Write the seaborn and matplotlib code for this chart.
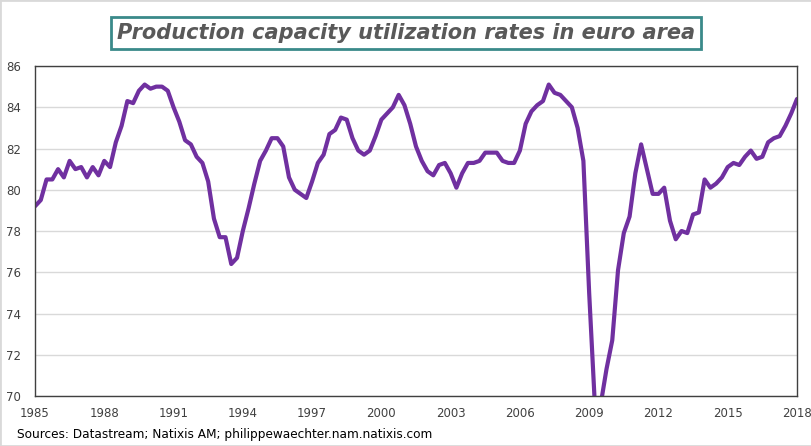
import numpy as np
import pandas as pd
import matplotlib
matplotlib.use("Agg")
import matplotlib.pyplot as plt
import seaborn as sns
from matplotlib.patches import Rectangle

# quarterly capacity utilization, euro area, 1985Q1 .. 2018Q1
start_year = 1985
utilization = [
    79.2, 79.5, 80.5, 80.5, 81.0, 80.6, 81.4, 81.0, 81.1, 80.6,
    81.1, 80.7, 81.4, 81.1, 82.3, 83.1, 84.3, 84.2, 84.8, 85.1,
    84.9, 85.0, 85.0, 84.8, 84.0, 83.3, 82.4, 82.2, 81.6, 81.3,
    80.4, 78.6, 77.7, 77.7, 76.4, 76.7, 78.0, 79.1, 80.3, 81.4,
    81.9, 82.5, 82.5, 82.1, 80.6, 80.0, 79.8, 79.6, 80.4, 81.3,
    81.7, 82.7, 82.9, 83.5, 83.4, 82.5, 81.9, 81.7, 81.9, 82.6,
    83.4, 83.7, 84.0, 84.6, 84.1, 83.2, 82.1, 81.4, 80.9, 80.7,
    81.2, 81.3, 80.8, 80.1, 80.8, 81.3, 81.3, 81.4, 81.8, 81.8,
    81.8, 81.4, 81.3, 81.3, 81.9, 83.2, 83.8, 84.1, 84.3, 85.1,
    84.7, 84.6, 84.3, 84.0, 83.0, 81.4, 75.0, 69.5, 69.6, 71.3,
    72.7, 76.1, 77.9, 78.7, 80.8, 82.2, 81.0, 79.8, 79.8, 80.1,
    78.5, 77.6, 78.0, 77.9, 78.8, 78.9, 80.5, 80.1, 80.3, 80.6,
    81.1, 81.3, 81.2, 81.6, 81.9, 81.5, 81.6, 82.3, 82.5, 82.6,
    83.1, 83.7, 84.4,
]
year_ticks = [1985, 1988, 1991, 1994, 1997, 2000, 2003, 2006, 2009, 2012, 2015, 2018]
y_ticks = [70, 72, 74, 76, 78, 80, 82, 84, 86]

quarters = pd.period_range(f"{start_year}Q1", periods=len(utilization), freq="Q")
df = pd.DataFrame({
    "t": quarters.year + (quarters.quarter - 1) / 4,
    "rate": utilization,
})

sns.set_style("white")
plt.rcParams["font.family"] = ["DejaVu Sans"]

fig = plt.figure(figsize=(8.12, 4.46), dpi=100)
ax = fig.add_axes([0.0431, 0.1121, 0.9384, 0.7399])

sns.lineplot(data=df, x="t", y="rate", ax=ax, color="#7030A0", linewidth=3.0)

ax.set_xlim(1985, 2018)
ax.set_ylim(70, 86)
ax.set_xticks(year_ticks)
ax.set_xticklabels([str(y) for y in year_ticks])
ax.set_yticks(y_ticks)
ax.yaxis.grid(True, color="#d9d9d9", linewidth=1.0)
ax.xaxis.grid(False)
ax.set_axisbelow(True)
ax.set_xlabel("")
ax.set_ylabel("")
ax.tick_params(axis="both", length=0, labelsize=8.5, colors="#404040")
ax.tick_params(axis="x", pad=8)
ax.tick_params(axis="y", pad=10)
for s in ax.spines.values():
    s.set_color("#404040")
    s.set_linewidth(1.0)

fig.text(0.5, 0.926, "Production capacity utilization rates in euro area",
         ha="center", va="center", fontsize=15, fontweight="bold", style="italic",
         color="#595959",
         bbox=dict(boxstyle="square,pad=0.3", facecolor="white",
                   edgecolor="#3a8a8a", linewidth=2))

fig.text(0.021, 0.025, "Sources: Datastream; Natixis AM; philippewaechter.nam.natixis.com",
         ha="left", va="center", fontsize=8.7, color="#000000")

fig.patches.append(Rectangle((0, 0), 1, 1, transform=fig.transFigure,
                             fill=False, edgecolor="#d9d9d9", linewidth=2))

fig.savefig("out.png", dpi=100)
